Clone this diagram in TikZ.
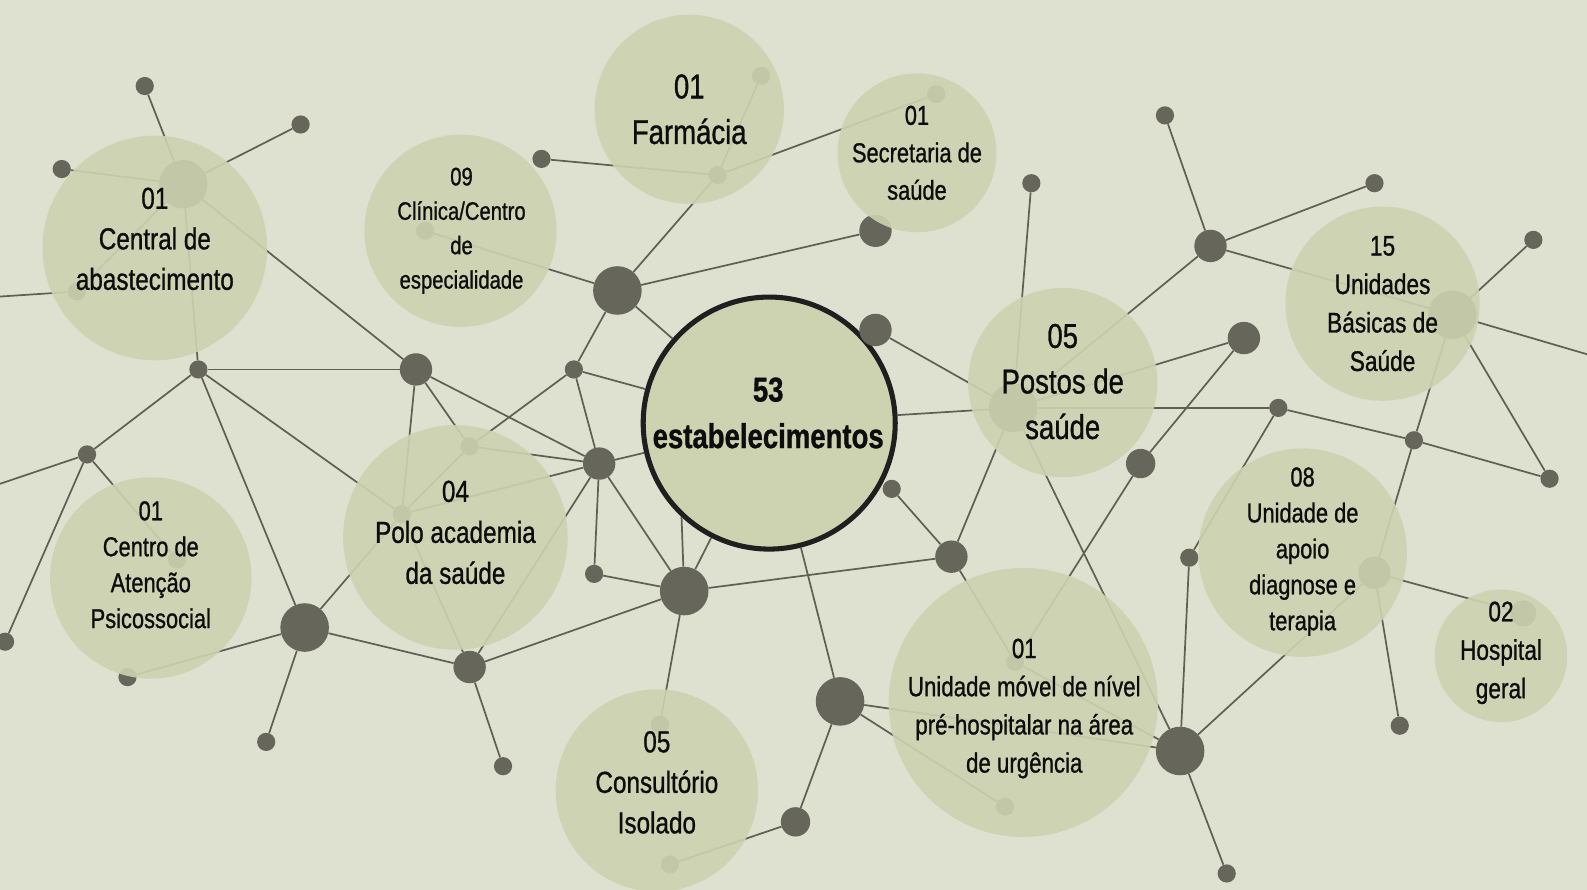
\documentclass[tikz,border=0pt]{standalone}
\usepackage{fontspec}
\setmainfont{Liberation Sans}[FakeStretch=0.8, FakeBold=0.9]
\usepackage{tikz}
\usetikzlibrary{positioning}
\definecolor{bgcol}{RGB}{222,225,208}
\definecolor{disccol}{RGB}{205,211,176}
\definecolor{dotcol}{RGB}{102,103,90}
\definecolor{linkcol}{RGB}{95,96,84}
\tikzstyle{core} = [circle, fill=disccol, draw=black!88, line width=5pt, minimum size=249pt, inner sep=0pt]
\tikzstyle{bubble} = [circle, fill=disccol, fill opacity=0.9, draw=none, inner sep=0pt]
\tikzstyle{bigdot} = [circle, fill=dotcol, inner sep=0pt, minimum size=48pt]
\tikzstyle{middot} = [circle, fill=dotcol, inner sep=0pt, minimum size=32pt]
\tikzstyle{smalldot} = [circle, fill=dotcol, inner sep=0pt, minimum size=18pt]
\tikzstyle{link} = [linkcol, line width=1.7pt]
\tikzstyle{bubbletext} = [align=center, text=black!95, inner sep=0pt]

\begin{document}
\begin{tikzpicture}[x=1pt, y=-1pt]

  % Background
  \useasboundingbox (0,0) rectangle (1568,879);
  \fill [bgcol] (0,0) rectangle (1568,879);

  % Centre
  \node (total) [core] at (760,418) {};

  % Dots, left
  \node (hubC) [bigdot] at (181,182) {};
  \node (nA1) [smalldot] at (143,85) {};
  \node (nA2) [smalldot] at (297,123) {};
  \node (nA3) [smalldot] at (61,167) {};
  \node (nA4) [smalldot] at (76,288) {};
  \node (nA5) [smalldot] at (196,365) {};
  \node (nA6) [middot] at (411,365) {};
  \node (nA7) [smalldot] at (86,449) {};
  \node (nA8) [smalldot] at (5,634) {};
  \node (nA9) [smalldot] at (175,553) {};
  \node (nA10) [smalldot] at (126,669) {};
  \node (hubL) [bigdot] at (301,620) {};
  \node (nA11) [smalldot] at (263,733) {};
  \node (nP1) [smalldot] at (397,508) {};
  \node (nP2) [smalldot] at (464,441) {};
  \node (nP3) [middot] at (464,659) {};
  \node (nP4) [smalldot] at (497,757) {};

  % Dots, middle
  \node (nM1) [smalldot] at (567,365) {};
  \node (nM2) [middot] at (592,458) {};
  \node (nM3) [smalldot] at (587,567) {};
  \node (hubB) [bigdot] at (676,584) {};
  \node (hubA) [bigdot] at (610,287) {};
  \node (nM4) [smalldot] at (420,228) {};
  \node (nM5) [smalldot] at (535,157) {};
  \node (nM6) [smalldot] at (709,173) {};
  \node (nM7) [smalldot] at (752,75) {};
  \node (nM8) [smalldot] at (925,93) {};
  \node (nM9) [middot] at (865,228) {};
  \node (nM10) [middot] at (865,326) {};
  \node (nM11) [smalldot] at (881,483) {};
  \node (nM12) [middot] at (940,550) {};

  % Dots, bottom
  \node (nB1) [smalldot] at (652,716) {};
  \node (nB2) [smalldot] at (662,854) {};
  \node (nB3) [middot, minimum size=29pt] at (786,812) {};
  \node (hubD) [bigdot] at (830,693) {};
  \node (nB4) [smalldot] at (1003,654) {};
  \node (nB5) [smalldot] at (993,797) {};
  \node (hubE) [bigdot] at (1166,742) {};
  \node (nB6) [smalldot] at (1212,863) {};

  % Dots, right
  \node (hubP) [bigdot] at (1001,403) {};
  \node (nR1) [smalldot] at (1019,181) {};
  \node (nR2) [middot] at (1196,243) {};
  \node (nR3) [smalldot] at (1151,114) {};
  \node (nR4) [smalldot] at (1358,181) {};
  \node (hubU) [bigdot] at (1435,311) {};
  \node (nR5) [smalldot] at (1515,237) {};
  \node (nR6) [middot] at (1229,334) {};
  \node (nR7) [middot, minimum size=29pt] at (1127,458) {};
  \node (nR8) [smalldot] at (1263,403) {};
  \node (nR9) [smalldot] at (1397,435) {};
  \node (nR10) [smalldot] at (1531,473) {};
  \node (nR11) [smalldot] at (1175,551) {};
  \node (nR12) [middot] at (1358,566) {};
  \node (nR13) [smalldot] at (1383,717) {};
  \node (nR14) [smalldot, minimum size=26pt] at (1505,606) {};

  % Loose ends
  \coordinate (westA) at (0,293);
  \coordinate (westB) at (0,478);
  \coordinate (eastA) at (1568,350);

  % Links
  \draw [link] (hubC) -- (nA1);
  \draw [link] (hubC) -- (nA2);
  \draw [link] (hubC) -- (nA3);
  \draw [link] (hubC) -- (nA4);
  \draw [link] (hubC) -- (nA5);
  \draw [link] (hubC) -- (nA6);
  \draw [link] (nA4) -- (westA);
  \draw [link] (nA5) -- (nA6);
  \draw [link] (nA5) -- (nA7);
  \draw [link] (nA5) -- (hubL);
  \draw [link] (nA5) -- (nP1);
  \draw [link] (nA7) -- (westB);
  \draw [link] (nA7) -- (nA8);
  \draw [link] (nA7) -- (nA9);
  \draw [link] (hubL) -- (nA10);
  \draw [link] (hubL) -- (nA11);
  \draw [link] (hubL) -- (nP3);
  \draw [link] (hubL) -- (nP1);
  \draw [link] (nP3) -- (nP4);
  \draw [link] (nP3) -- (hubB);
  \draw [link] (nP3) -- (nP1);
  \draw [link] (nP3) -- (nM2);
  \draw [link] (nA6) -- (nP1);
  \draw [link] (nA6) -- (nP2);
  \draw [link] (nA6) -- (nM2);
  \draw [link] (nP2) -- (nP1);
  \draw [link] (nP2) -- (nM1);
  \draw [link] (nP2) -- (nM2);
  \draw [link] (nP1) -- (nM2);
  \draw [link] (nM1) -- (hubA);
  \draw [link] (nM1) -- (nM2);
  \draw [link] (nM1) -- (total);
  \draw [link] (nM2) -- (nM3);
  \draw [link] (nM2) -- (hubB);
  \draw [link] (nM2) -- (total);
  \draw [link] (nM3) -- (hubB);
  \draw [link] (hubB) -- (total);
  \draw [link] (hubB) -- (total.227);
  \draw [link] (hubB) -- (nM12);
  \draw [link] (hubB) -- (nB1);
  \draw [link] (hubA) -- (nM4);
  \draw [link] (hubA) -- (nM6);
  \draw [link] (hubA) -- (nM9);
  \draw [link] (hubA) -- (total);
  \draw [link] (nM6) -- (nM5);
  \draw [link] (nM6) -- (nM7);
  \draw [link] (nM6) -- (nM8);
  \draw [link] (nM10) -- (hubP);
  \draw [link] (nM11) -- (nM12);
  \draw [link] (nM12) -- (hubP);
  \draw [link] (nM12) -- (nB4);
  \draw [link] (total) -- (hubP);
  \draw [link] (total) -- (hubD);
  \draw [link] (hubD) -- (nB3);
  \draw [link] (hubD) -- (nB5);
  \draw [link] (hubD) -- (hubE);
  \draw [link] (nB3) -- (nB2);
  \draw [link] (nB4) -- (nR7);
  \draw [link] (nB4) -- (hubE);
  \draw [link] (hubP) -- (nR1);
  \draw [link] (hubP) -- (nR2);
  \draw [link] (hubP) -- (nR6);
  \draw [link] (hubP) -- (nR8);
  \draw [link] (hubP) -- (hubE);
  \draw [link] (nR2) -- (nR3);
  \draw [link] (nR2) -- (nR4);
  \draw [link] (nR2) -- (hubU);
  \draw [link] (hubU) -- (nR5);
  \draw [link] (hubU) -- (eastA);
  \draw [link] (hubU) -- (nR10);
  \draw [link] (hubU) -- (nR9);
  \draw [link] (nR6) -- (nR7);
  \draw [link] (nR8) -- (nR9);
  \draw [link] (nR8) -- (nR11);
  \draw [link] (nR9) -- (nR10);
  \draw [link] (nR9) -- (nR12);
  \draw [link] (nR11) -- (hubE);
  \draw [link] (nR12) -- (hubE);
  \draw [link] (nR12) -- (nR13);
  \draw [link] (nR12) -- (nR14);
  \draw [link] (hubE) -- (nB6);

  % Bubbles
  \node (central) [bubble, minimum size=222pt] at (153,245) {};
  \node (clinica) [bubble, minimum size=190pt] at (455,228) {};
  \node (farmacia) [bubble, minimum size=187pt] at (681,108) {};
  \node (secretaria) [bubble, minimum size=157pt] at (906,151) {};
  \node (postos) [bubble, minimum size=187pt] at (1050,378) {};
  \node (ubs) [bubble, minimum size=192pt] at (1366,300) {};
  \node (caps) [bubble, minimum size=199pt] at (149,571) {};
  \node (polo) [bubble, minimum size=222pt] at (450,531) {};
  \node (consultorio) [bubble, minimum size=200pt] at (649,781) {};
  \node (movel) [bubble, minimum size=266pt] at (1011,694) {};
  \node (apoio) [bubble, minimum size=206pt] at (1287,546) {};
  \node (hospital) [bubble, minimum size=131pt] at (1483,648) {};

  % Texts
  \node (totalT) [bubbletext, font=\bfseries\fontsize{34}{46}\selectfont] at (759,408) {53\\estabelecimentos};
  \node (centralT) [bubbletext, font=\fontsize{30}{40}\selectfont] at (153,236) {01\\Central de\\abastecimento};
  \node (clinicaT) [bubbletext, font=\fontsize{25}{34}\selectfont] at (456,228) {09\\Clínica/Centro\\de\\especialidade};
  \node (farmaciaT) [bubbletext, font=\fontsize{34}{45}\selectfont] at (681,108) {01\\Farmácia};
  \node (secretariaT) [bubbletext, font=\fontsize{27}{37}\selectfont] at (906,151) {01\\Secretaria de\\saúde};
  \node (postosT) [bubbletext, font=\fontsize{34}{45}\selectfont] at (1050,377) {05\\Postos de\\saúde};
  \node (ubsT) [bubbletext, font=\fontsize{28}{38}\selectfont] at (1366,300) {15\\Unidades\\Básicas de\\Saúde};
  \node (capsT) [bubbletext, font=\fontsize{27}{35.5}\selectfont] at (149,558) {01\\Centro de\\Atenção\\Psicossocial};
  \node (poloT) [bubbletext, font=\fontsize{30}{40.5}\selectfont] at (450,526) {04\\Polo academia\\da saúde};
  \node (consultorioT) [bubbletext, font=\fontsize{30}{40}\selectfont] at (649,773) {05\\Consultório\\Isolado};
  \node (movelT) [bubbletext, font=\fontsize{27.5}{37.7}\selectfont] at (1012,700) {01\\Unidade móvel de nível\\pré-hospitalar na área\\de urgência};
  \node (apoioT) [bubbletext, font=\fontsize{27}{35.5}\selectfont] at (1287,545) {08\\Unidade de\\apoio\\diagnose e\\terapia};
  \node (hospitalT) [bubbletext, font=\fontsize{28}{38}\selectfont] at (1483,645) {02\\Hospital\\geral};

\end{tikzpicture}
\end{document}
